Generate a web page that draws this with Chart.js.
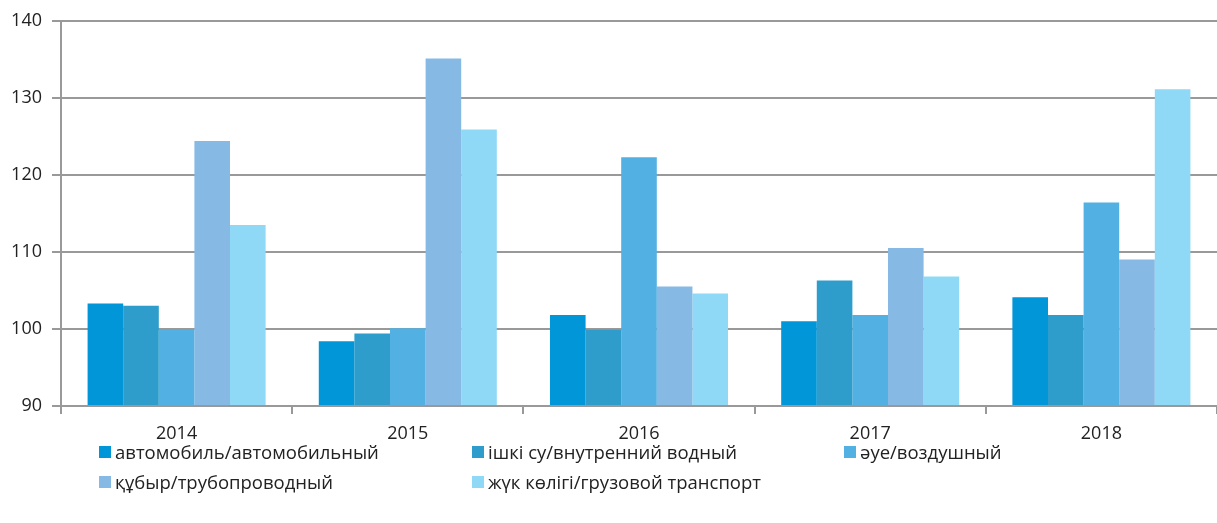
<!DOCTYPE html>
<html lang="ru">
<head>
  <meta charset="UTF-8">
  <title>Транспорт</title>
  <script src="https://cdn.jsdelivr.net/npm/chart.js"></script>
  <style>
    html, body { margin: 0; padding: 0; background: #fff; }
    #wrap { position: relative; width: 1217px; height: 523px; }
    #legend {
      position: absolute; left: 99px; top: 439px;
      display: grid; grid-template-columns: 373px 372px 300px;
      row-gap: 5px;
      font-family: 'Open Sans', sans-serif; font-size: 18.5px; color: #222;
    }
    #legend div { display: flex; align-items: center; height: 25px; white-space: nowrap; }
    #legend span.box { display: inline-block; width: 12px; height: 12px; margin-right: 4px; }
  </style>
</head>
<body>
  <div id="wrap">
    <canvas id="chart" width="1217" height="523"></canvas>
    <div id="legend"></div>
  </div>

  <script>
    const years = ['2014', '2015', '2016', '2017', '2018'];
    const seriesNames = [
      'автомобиль/автомобильный',
      'ішкі су/внутренний водный',
      'әуе/воздушный',
      'құбыр/трубопроводный',
      'жүк көлігі/грузовой транспорт'
    ];
    const avto    = [103.3, 98.4, 101.8, 101.0, 104.1];
    const vodny   = [103.0, 99.4, 99.9, 106.3, 101.8];
    const vozdush = [99.9, 100.1, 122.3, 101.8, 116.4];
    const truba   = [124.4, 135.1, 105.5, 110.5, 109.0];
    const gruz    = [113.5, 125.9, 104.6, 106.8, 131.1];
    const yTicks  = [90, 100, 110, 120, 130, 140];

    const colors = ['#0096d8', '#2e9dcb', '#52b1e2', '#86bae4', '#8fd9f6'];
    const values = [avto, vodny, vozdush, truba, gruz];

    const datasets = values.map((v, i) => ({
      label: seriesNames[i],
      data: v,
      backgroundColor: colors[i],
      borderWidth: 0,
      base: 90
    }));

    new Chart(document.getElementById('chart'), {
      type: 'bar',
      data: { labels: years, datasets: datasets },
      options: {
        responsive: false,
        animation: false,
        layout: { padding: { top: 19, right: 0, bottom: 77, left: 0 } },
        plugins: { legend: { display: false }, tooltip: { enabled: false } },
        datasets: { bar: { categoryPercentage: 0.77, barPercentage: 1.0 } },
        scales: {
          x: {
            grid: { display: true, drawOnChartArea: false, drawTicks: true, tickLength: 8, color: '#999', lineWidth: 2, offset: true },
            border: { display: true, color: '#999', width: 2 },
            ticks: { color: '#222', font: { family: 'Open Sans', size: 18 }, padding: 9 },
            afterFit: s => { s.height = 40; }
          },
          y: {
            min: 90, max: 140,
            afterBuildTicks: s => { s.ticks = yTicks.map(v => ({ value: v })); },
            grid: { color: '#999', lineWidth: 2, tickLength: 9, drawTicks: true },
            border: { display: true, color: '#999', width: 2 },
            ticks: { color: '#222', font: { family: 'Open Sans', size: 18 }, padding: 10 },
            afterFit: s => { s.width = 61; }
          }
        }
      }
    });

    const legend = document.getElementById('legend');
    seriesNames.forEach((name, i) => {
      const d = document.createElement('div');
      d.innerHTML = '<span class="box" style="background:' + colors[i] + '"></span>' + name;
      legend.appendChild(d);
    });
  </script>
</body>
</html>
